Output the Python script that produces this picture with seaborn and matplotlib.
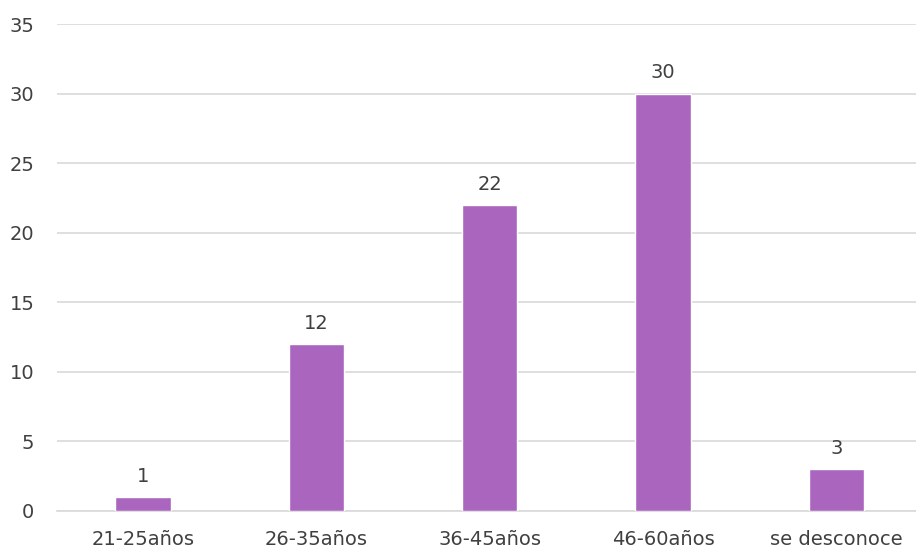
import matplotlib
matplotlib.use("Agg")
import matplotlib.pyplot as plt
import seaborn as sns
import pandas as pd

categories = ["21-25años", "26-35años", "36-45años", "46-60años", "se desconoce"]
values = [1, 12, 22, 30, 3]

sns.set_theme(style="white")
plt.rcParams['font.family'] = ['DejaVu Sans']

df = pd.DataFrame({"grupo": categories, "n": values})

fig = plt.figure(figsize=(9.16, 5.52), dpi=100)
ax = fig.add_axes([56.5 / 916, (552 - 511) / 552, 866.5 / 916, (511 - 24) / 552])

sns.barplot(data=df, x="grupo", y="n", color="#AA66BE", saturation=1,
            width=0.32, ax=ax, zorder=3)

ax.set_ylim(0, 35)
ax.set_yticks(range(0, 36, 5))
ax.set_xlim(-0.5, 4.5)
ax.yaxis.grid(True, color="#D9D9D9", linewidth=1.2, zorder=0)
ax.set_axisbelow(True)
for s in ["top", "right", "left"]:
    ax.spines[s].set_visible(False)
ax.spines["bottom"].set_color("#D9D9D9")
ax.spines["bottom"].set_linewidth(1.2)
ax.set_xlabel("")
ax.set_ylabel("")
ax.tick_params(axis="both", length=0, labelsize=14, colors="#404040")
ax.tick_params(axis="y", pad=16)
ax.tick_params(axis="x", pad=14)

for p, v in zip(ax.patches, values):
    ax.annotate(str(v), (p.get_x() + p.get_width() / 2, v),
                xytext=(0, 8), textcoords="offset points",
                ha="center", va="bottom", fontsize=14, color="#404040")

fig.savefig("out.png", dpi=100)
